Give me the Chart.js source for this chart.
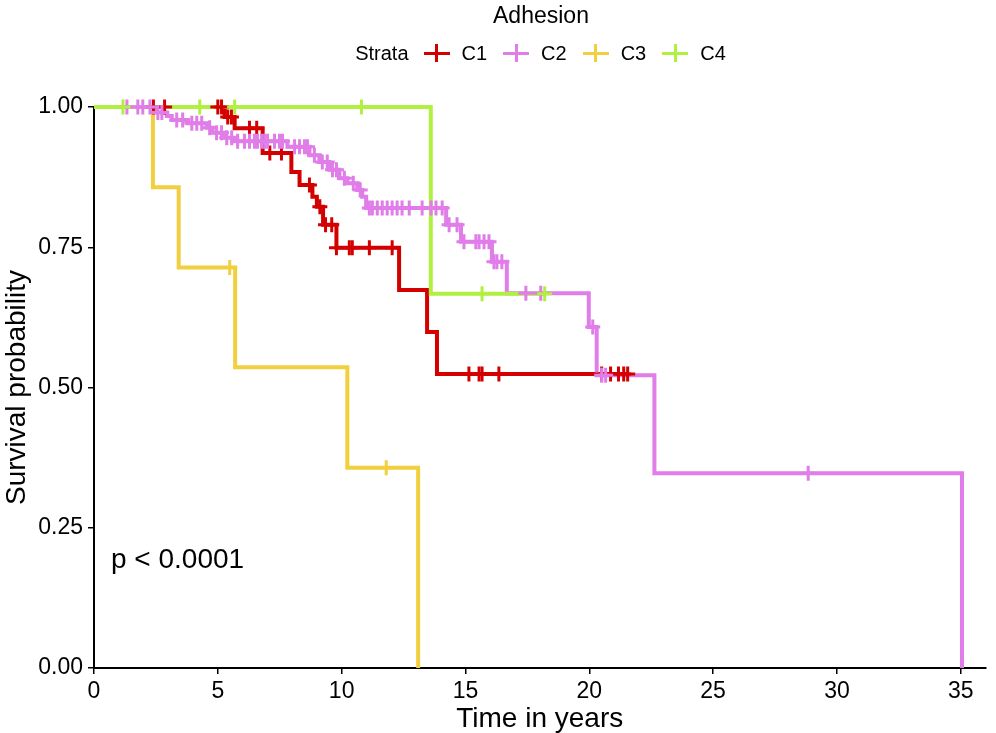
<!DOCTYPE html>
<html><head><meta charset="utf-8">
<script src="https://cdn.jsdelivr.net/npm/chart.js@4.4.1/dist/chart.umd.min.js"></script>
<style>
html,body{margin:0;padding:0;background:#fff;}
#wrap{position:relative;width:996px;height:733px;font-family:"Liberation Sans",Arial,Helvetica,sans-serif;color:#000;overflow:hidden;}
#c{position:absolute;left:0;top:0;}
#ltitle{position:absolute;left:0;top:0;width:1082px;text-align:center;font-size:23px;line-height:30px;}
#lrow{position:absolute;left:0;top:38px;width:1082px;height:30px;display:flex;justify-content:center;align-items:center;font-size:20px;line-height:30px;}
.key{position:relative;width:26px;height:20px;margin:0 12px 0 15px;}
.key .h{position:absolute;left:0;top:8.5px;width:26px;height:3px;}
.key .v{position:absolute;left:11.5px;top:1px;width:3px;height:18px;}
.lab{margin-right:1px;}
#pval{position:absolute;left:111px;top:542px;font-size:28px;line-height:34px;}
</style></head>
<body>
<div id="wrap">
<canvas id="c" width="996" height="733"></canvas>
<div id="ltitle">Adhesion</div>
<div id="lrow"><span>Strata</span></div>
<div id="pval">p &lt; 0.0001</div>
</div>
<script>
// ---- data ----
const strata = ["C1", "C2", "C3", "C4"];
const colors = ["#D40000", "#E07DE9", "#F2CF3E", "#B0F040"];
const xTicks = [0, 5, 10, 15, 20, 25, 30, 35];
const yTicks = [0, 0.25, 0.5, 0.75, 1];

// C1: event times / survival after event, censor times, end of follow-up
const c1Times = [5.28, 5.68, 6.81, 7.97, 8.30, 8.82, 9.00, 9.25, 9.79, 12.32, 13.45, 13.85];
const c1Surv  = [0.982, 0.962, 0.918, 0.884, 0.861, 0.840, 0.822, 0.790, 0.749, 0.674, 0.599, 0.524];
const c1Censor = [2.40, 2.85, 5.00, 5.15, 5.40, 5.55, 6.28, 6.57, 7.10, 7.57, 8.70, 9.12, 9.35, 9.60, 9.79, 10.31, 10.43, 11.12, 12.04, 15.14, 15.55, 15.67, 16.35, 20.50, 20.86, 21.18, 21.39, 21.55];
const c1End = 21.55;

// C2
const c2Times = [2.46, 2.94, 3.14, 3.79, 4.55, 4.79, 5.28, 5.68, 7.81, 8.70, 9.10, 9.50, 9.91, 10.23, 10.63, 10.83, 10.99, 14.22, 14.82, 16.07, 16.67, 19.98, 20.30, 22.63, 35.05];
const c2Surv  = [0.990, 0.984, 0.977, 0.971, 0.963, 0.954, 0.945, 0.939, 0.929, 0.914, 0.902, 0.888, 0.873, 0.864, 0.852, 0.840, 0.820, 0.790, 0.760, 0.724, 0.668, 0.608, 0.522, 0.347, 0];
const c2Censor = [1.33, 1.77, 1.97, 2.26, 2.58, 2.74, 3.34, 3.58, 3.95, 4.15, 4.35, 4.67, 4.95, 5.15, 5.36, 5.56, 5.80, 6.08, 6.28, 6.48, 6.60, 6.77, 6.89, 7.01, 7.29, 7.49, 7.61, 8.10, 8.30, 8.50, 8.62, 8.90, 9.22, 9.42, 9.63, 9.79, 10.11, 10.47, 10.75, 11.12, 11.24, 11.44, 11.64, 11.84, 12.04, 12.24, 12.44, 12.73, 13.25, 13.61, 13.81, 14.06, 14.34, 14.66, 14.94, 15.42, 15.55, 15.75, 15.95, 16.15, 16.27, 16.47, 17.44, 18.04, 20.14, 20.50, 20.66, 28.84];
const c2End = 35.05;

// C3
const c3Times = [2.38, 3.42, 5.70, 10.23, 13.09];
const c3Surv  = [0.857, 0.714, 0.536, 0.357, 0];
const c3Censor = [5.48, 11.80];
const c3End = 13.09;

// C4
const c4Times = [13.60];
const c4Surv  = [0.667];
const c4Censor = [1.17, 4.27, 5.68, 10.80, 15.67, 18.20];
const c4End = 18.20;

// ---- build ----
const FONT = '"Liberation Sans", Arial, Helvetica, sans-serif';
Chart.defaults.font.family = FONT;
Chart.defaults.color = '#000';

function stepPoints(times, surv, end) {
  const pts = [{x: 0, y: 1}];
  for (let i = 0; i < times.length; i++) pts.push({x: times[i], y: surv[i]});
  const last = pts[pts.length - 1];
  if (end > last.x) pts.push({x: end, y: last.y});
  return pts;
}
function survAt(times, surv, t) {
  let s = 1;
  for (let i = 0; i < times.length; i++) if (times[i] <= t) s = surv[i];
  return s;
}
const groups = [
  [c1Times, c1Surv, c1Censor, c1End],
  [c2Times, c2Surv, c2Censor, c2End],
  [c3Times, c3Surv, c3Censor, c3End],
  [c4Times, c4Surv, c4Censor, c4End]
];
const datasets = [];
groups.forEach((g, i) => {
  datasets.push({
    type: 'line', label: strata[i], data: stepPoints(g[0], g[1], g[3]),
    stepped: 'before', borderColor: colors[i], borderWidth: 4, pointRadius: 0,
    fill: false, clip: false, order: 8 - i, borderJoinStyle: 'miter', borderCapStyle: 'butt'
  });
});
groups.forEach((g, i) => {
  datasets.push({
    type: 'scatter', label: strata[i] + ' censor',
    data: g[2].map(t => ({x: t, y: survAt(g[0], g[1], t)})),
    showLine: false, pointStyle: 'cross', pointRadius: 7.5, pointBorderWidth: 3,
    borderColor: colors[i], backgroundColor: colors[i], clip: false, order: 4 - i
  });
});

new Chart(document.getElementById('c'), {
  data: {datasets},
  options: {
    responsive: false, animation: false, devicePixelRatio: 1,
    layout: {padding: {top: 107, right: 8, left: 0, bottom: 0}},
    plugins: {legend: {display: false}, tooltip: {enabled: false}},
    events: [],
    scales: {
      x: {
        type: 'linear', min: 0, max: 36,
        afterBuildTicks: s => { s.ticks = xTicks.map(v => ({value: v})); },
        afterFit: s => { s.height = 65; },
        ticks: {font: {size: 23}, color: '#000', padding: 4, maxRotation: 0, autoSkip: false},
        grid: {display: true, drawOnChartArea: false, drawTicks: true, tickLength: 6, color: '#000', lineWidth: 1.5},
        border: {display: true, color: '#000', width: 2},
        title: {display: true, text: 'Time in years', font: {size: 28}, color: '#000', padding: {top: 0, bottom: -3}}
      },
      y: {
        type: 'linear', min: 0, max: 1,
        afterBuildTicks: s => { s.ticks = yTicks.map(v => ({value: v})); },
        afterFit: s => { s.width = 94; },
        ticks: {font: {size: 23}, color: '#000', padding: 5, callback: v => Number(v).toFixed(2)},
        grid: {display: true, drawOnChartArea: false, drawTicks: true, tickLength: 6, color: '#000', lineWidth: 1.5},
        border: {display: true, color: '#000', width: 2},
        title: {display: true, text: 'Survival probability', font: {size: 28}, color: '#000', padding: {top: 0, bottom: 0}}
      }
    }
  }
});

// legend (HTML text)
const row = document.getElementById('lrow');
strata.forEach((name, i) => {
  const k = document.createElement('div'); k.className = 'key';
  k.innerHTML = '<div class="h" style="background:' + colors[i] + '"></div><div class="v" style="background:' + colors[i] + '"></div>';
  row.appendChild(k);
  const l = document.createElement('span'); l.className = 'lab'; l.textContent = name;
  row.appendChild(l);
});
</script>
</body></html>
